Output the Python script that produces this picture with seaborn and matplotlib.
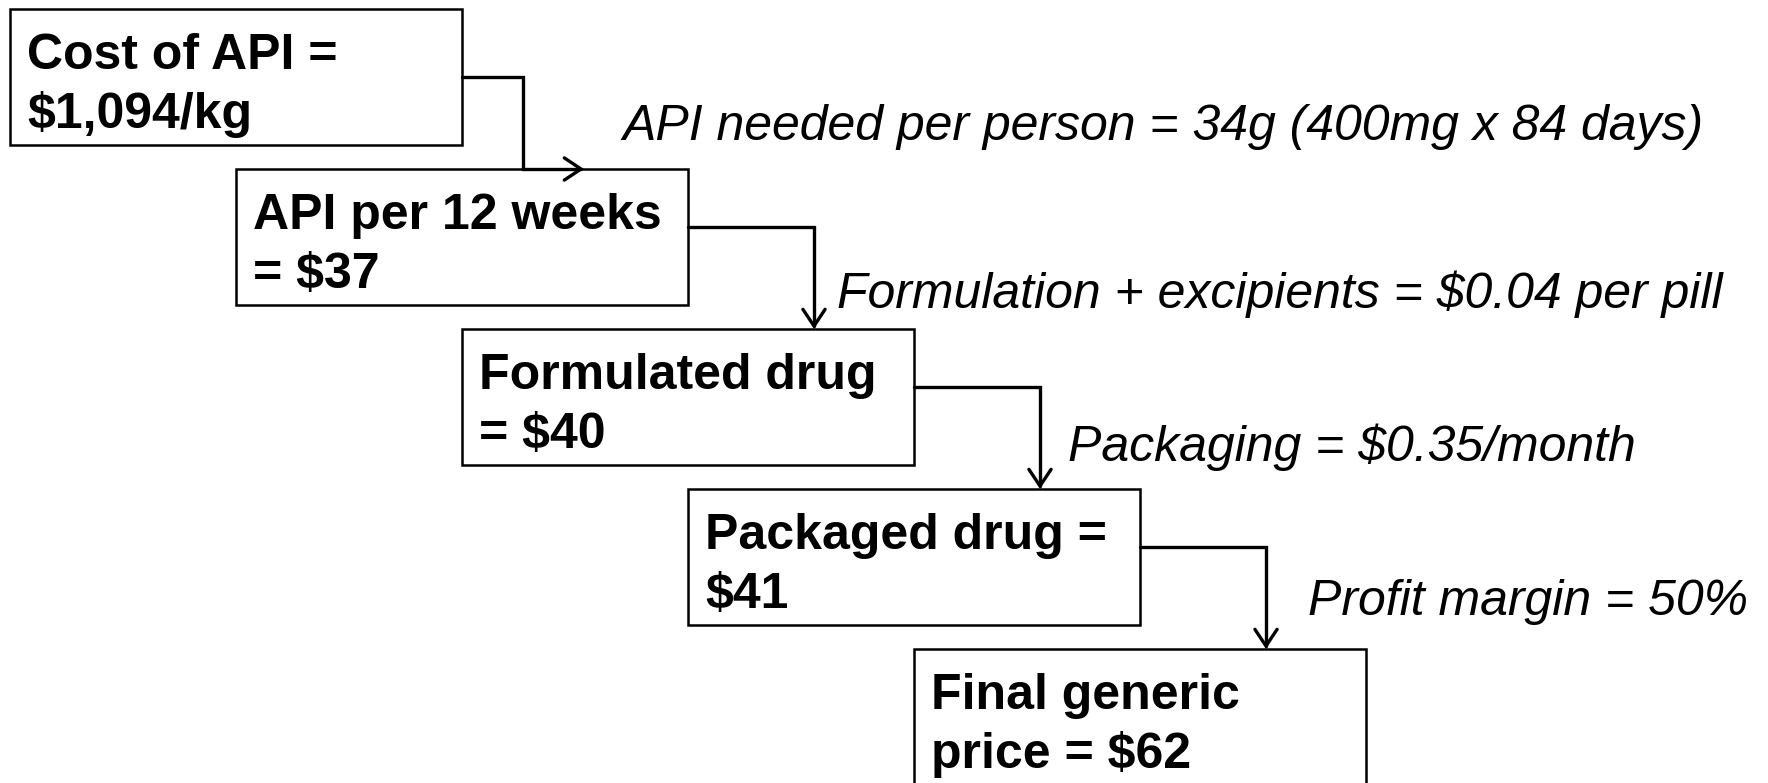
import numpy as np
import matplotlib.pyplot as plt
import seaborn as sns
from matplotlib.patches import Rectangle, FancyArrowPatch
from matplotlib.path import Path

sns.set_theme(style='white')
plt.rcParams['font.family'] = ['Liberation Sans', 'DejaVu Sans']
plt.rcParams['text.color'] = 'black'

# cost build-up, one box per step (two text lines each)
box_lines = [['Cost of API =', '$1,094/kg'],
             ['API per 12 weeks', '= $37'],
             ['Formulated drug', '= $40'],
             ['Packaged drug =', '$41'],
             ['Final generic', 'price = $62']]
# what gets added between the steps
step_notes = ['API needed per person = 34g (400mg x 84 days)',
              'Formulation + excipients = $0.04 per pill',
              'Packaging = $0.35/month',
              'Profit margin = 50%']

W, H = 1768, 783
fig = plt.figure(figsize=(W / 100, H / 100), dpi=100)
ax = fig.add_axes([0, 0, 1, 1])
ax.set_xlim(0, W)
ax.set_ylim(H, 0)
ax.axis('off')

box_w, box_h = 452, 136
dx, dy = 226, 160
x0, y0 = 10, 9
pad_x, base1, line_gap = 17, 60, 59

boxes = []
for i, lines in enumerate(box_lines):
    bx, by = x0 + i * dx, y0 + i * dy
    boxes.append((bx, by))
    ax.add_patch(Rectangle((bx, by), box_w, box_h, facecolor='white',
                           edgecolor='black', lw=1.8, zorder=2))
    for j, line in enumerate(lines):
        ax.text(bx + pad_x, by + base1 + j * line_gap, line, fontsize=36,
                fontweight='bold', color='black', va='baseline', ha='left',
                zorder=3, parse_math=False)

# elbow connectors
arrow_style = '->,head_length=0.6,head_width=0.4'
for i in range(len(boxes) - 1):
    bx, by = boxes[i]
    nx, ny = boxes[i + 1]
    y_out = by + (68 if i == 0 else base1 - 2)
    if i == 0:
        xt = bx + box_w + 61
        verts = [(bx + box_w, y_out), (xt, y_out), (xt, ny), (xt + 61, ny)]
    else:
        xt = nx + box_w - 100
        verts = [(bx + box_w, y_out), (xt, y_out), (xt, ny)]
    codes = [Path.MOVETO] + [Path.LINETO] * (len(verts) - 1)
    arr = FancyArrowPatch(path=Path(verts, codes), arrowstyle=arrow_style,
                          mutation_scale=20, lw=2.4, color='black',
                          joinstyle='miter', zorder=4)
    ax.add_patch(arr)

note_x = [622, 837, 1068, 1308]
note_y = [140, 308, 461, 615]
for txt, tx, ty in zip(step_notes, note_x, note_y):
    ax.text(tx, ty, txt, fontsize=36, style='italic', color='black',
            va='baseline', ha='left', parse_math=False)

fig.savefig('out.png', dpi=100, facecolor='white')
